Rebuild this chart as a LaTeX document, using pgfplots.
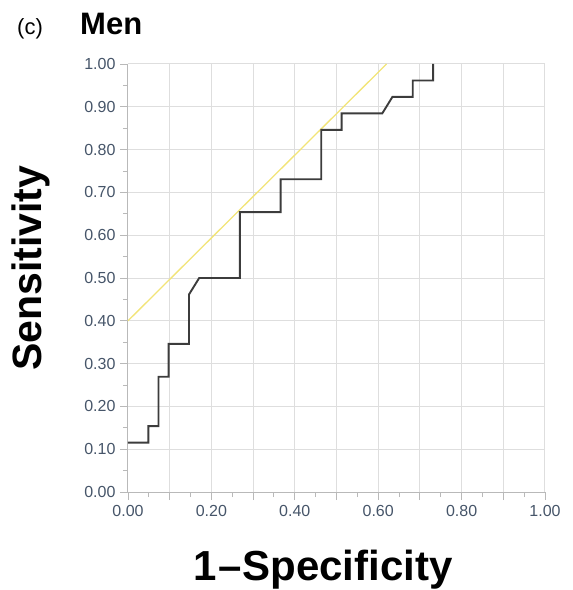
\documentclass[border=0pt]{standalone}
\usepackage{pgfplots}
\pgfplotsset{compat=1.18}
\usepackage{fontspec}
\setmainfont{Liberation Sans}
\definecolor{roc}{RGB}{60,60,60}
\definecolor{tang}{RGB}{242,228,120}
\definecolor{gridc}{RGB}{222,222,222}
\definecolor{axc}{RGB}{185,185,185}
\definecolor{tickc}{RGB}{70,85,105}
\begin{document}
\begin{tikzpicture}
\begin{axis}[
  at={(0pt,0pt)}, anchor=south west,
  scale only axis, width=417pt, height=428pt,
  xmin=0, xmax=1, ymin=0, ymax=1,
  axis lines=left, axis line style={-, draw=axc, line width=1pt},
  xtick={0,0.1,...,1.01}, xticklabels={0.00,,0.20,,0.40,,0.60,,0.80,,1.00},
  ytick={0,0.1,...,1.01}, yticklabels={0.00,0.10,0.20,0.30,0.40,0.50,0.60,0.70,0.80,0.90,1.00},
  minor tick num=1,
  tick align=outside, major tick length=8pt, minor tick length=5pt,
  tick style={draw=axc, line width=0.9pt},
  grid=major, major grid style={draw=gridc, line width=1pt},
  ticklabel style={font=\fontsize{16}{16}\selectfont, color=tickc},
  xticklabel style={yshift=-2pt},
  yticklabel style={xshift=-1pt},
  xlabel={\bfseries 1\kern1pt--\kern1ptSpecificity},
  xlabel style={at={(axis description cs:0.468,-0.206)}, anchor=base, font=\fontsize{42}{42}\selectfont},
  ylabel={\bfseries Sensitivity},
  ylabel style={at={(axis description cs:-0.233,0.523)}, anchor=center, rotate=0, font=\fontsize{41}{41}\selectfont},
  clip=false,
]
\addplot[tang, line width=1.3pt] coordinates {(0,0.4) (0.62,1.0)};
\addplot[roc, line width=1.9pt, line join=miter] coordinates {
(0,0.1154) (0.0488,0.1154) (0.0488,0.1538) (0.0732,0.1538) (0.0732,0.2692) (0.0976,0.2692) (0.0976,0.3462) (0.1463,0.3462) (0.1463,0.4615) (0.1707,0.5) (0.2683,0.5) (0.2683,0.6538) (0.3659,0.6538) (0.3659,0.7308) (0.4634,0.7308) (0.4634,0.8462) (0.5122,0.8462) (0.5122,0.8846) (0.6098,0.8846) (0.6341,0.9231) (0.6829,0.9231) (0.6829,0.9615) (0.7317,0.9615) (0.7317,1.0)};
\end{axis}
\node[anchor=base west, inner sep=0pt, font=\fontsize{22}{22}\selectfont] at (-111pt,457pt) {(c)};
\node[anchor=base west, inner sep=0pt, font=\fontsize{31}{31}\selectfont\bfseries] at (-48pt,457pt) {Men};
\pgfresetboundingbox
\path[use as bounding box] (-128pt,-98pt) rectangle (445pt,492pt);
\end{tikzpicture}
\end{document}
